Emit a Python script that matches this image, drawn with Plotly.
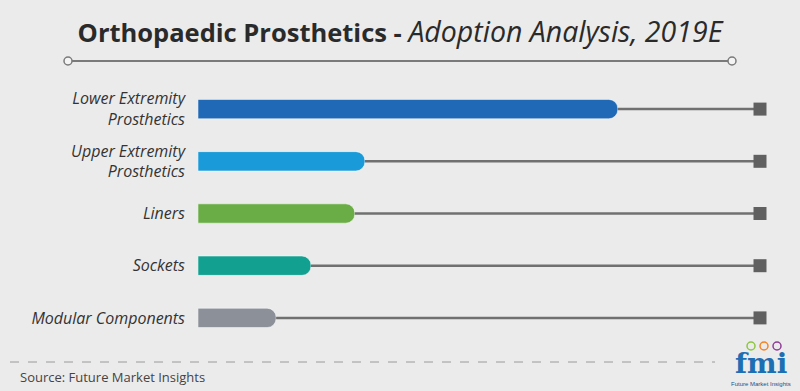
import plotly.graph_objects as go

categories = ["Lower Extremity<br>Prosthetics", "Upper Extremity<br>Prosthetics", "Liners", "Sockets", "Modular Components"]
values = [74.7, 29.7, 27.9, 20.1, 13.9]
bar_colors = ["#1f69b6", "#1a9ad8", "#6aad46", "#12a091", "#8b9099"]
full_scale = 100

W, H = 800, 391
PL, PR, PT, PB = 198, 760, 83, 344  # plot area in window pixels

def px_x(p):
    return (p - PL) / (PR - PL)

def px_y(p):
    return (PB - p) / (PB - PT)

fig = go.Figure()

fig.add_trace(go.Bar(
    x=values, y=categories, orientation="h",
    marker=dict(color=bar_colors, line=dict(color="rgba(255,255,255,0.5)", width=1)),
    width=0.37, showlegend=False, hoverinfo="skip",
))

for cat, v in zip(categories, values):
    fig.add_trace(go.Scatter(
        x=[v, full_scale], y=[cat, cat], mode="lines",
        line=dict(color="#707070", width=2.5), showlegend=False, hoverinfo="skip",
    ))
fig.add_trace(go.Scatter(
    x=[full_scale] * len(categories), y=categories, mode="markers",
    marker=dict(symbol="square", size=13, color="#606060"),
    showlegend=False, hoverinfo="skip", cliponaxis=False,
))

fig.update_layout(barcornerradius=9)

fig.update_xaxes(range=[0, full_scale], visible=False, fixedrange=True)
fig.update_yaxes(autorange="reversed", showgrid=False, zeroline=False, ticks="",
                 ticklabelstandoff=12, fixedrange=True,
                 tickfont=dict(family="Open Sans", size=16, color="#333333", style="italic"))

shapes = [
    dict(type="line", xref="paper", yref="paper", x0=px_x(68), x1=px_x(732), y0=px_y(61), y1=px_y(61),
         line=dict(color="#7a7a7a", width=2)),
    dict(type="line", xref="paper", yref="paper", x0=px_x(10), x1=px_x(715), y0=px_y(362), y1=px_y(362),
         line=dict(color="#9a9a9a", width=1, dash="dash")),
]
for cx in (68, 732):
    shapes.append(dict(type="circle", xref="paper", yref="paper", xsizemode="pixel", ysizemode="pixel",
                       xanchor=px_x(cx), yanchor=px_y(61), x0=-4, x1=4, y0=-4, y1=4,
                       line=dict(color="#7a7a7a", width=1.5), fillcolor="#f4f4f4"))
for cx, col in ((751, "#8cc63f"), (764, "#f58220"), (777, "#8e3d97")):
    shapes.append(dict(type="circle", xref="paper", yref="paper", xsizemode="pixel", ysizemode="pixel",
                       xanchor=px_x(cx), yanchor=px_y(346), x0=-4, x1=4, y0=-4, y1=4,
                       line=dict(color=col, width=1.5), fillcolor="#ebebeb"))

annotations = [
    dict(text="Source: Future Market Insights", xref="paper", yref="paper", x=px_x(18), y=px_y(377),
         xanchor="left", yanchor="middle", showarrow=False,
         font=dict(family="Open Sans", size=13, color="#444444")),
    dict(text="<b>fmi</b>", xref="paper", yref="paper", x=px_x(761), y=px_y(363),
         xanchor="center", yanchor="middle", showarrow=False,
         font=dict(family="DejaVu Serif", size=28, color="#1d6fb4")),
    dict(text="Future Market Insights", xref="paper", yref="paper", x=px_x(761), y=px_y(384),
         xanchor="center", yanchor="middle", showarrow=False,
         font=dict(family="Liberation Sans", size=6, color="#1d4f8a")),
]

fig.update_layout(
    width=W, height=H,
    margin=dict(l=PL, r=W - PR, t=PT, b=H - PB),
    paper_bgcolor="#ebebeb", plot_bgcolor="#ebebeb",
    title=dict(text="<b>Orthopaedic Prosthetics - </b><i><span style='font-size:28.5px'>Adoption Analysis, 2019E</span></i>",
               x=400 / W, xanchor="center", y=1 - 33 / H, yanchor="middle",
               font=dict(family="Open Sans", size=25.5, color="#2a2a2a")),
    shapes=shapes, annotations=annotations,
)

fig.write_html(
    "out.html",
    config={"displayModeBar": False, "staticPlot": True},
    post_script="document.body.style.margin='0';document.body.style.overflow='hidden';"
                "document.body.style.background='#ebebeb';",
)
